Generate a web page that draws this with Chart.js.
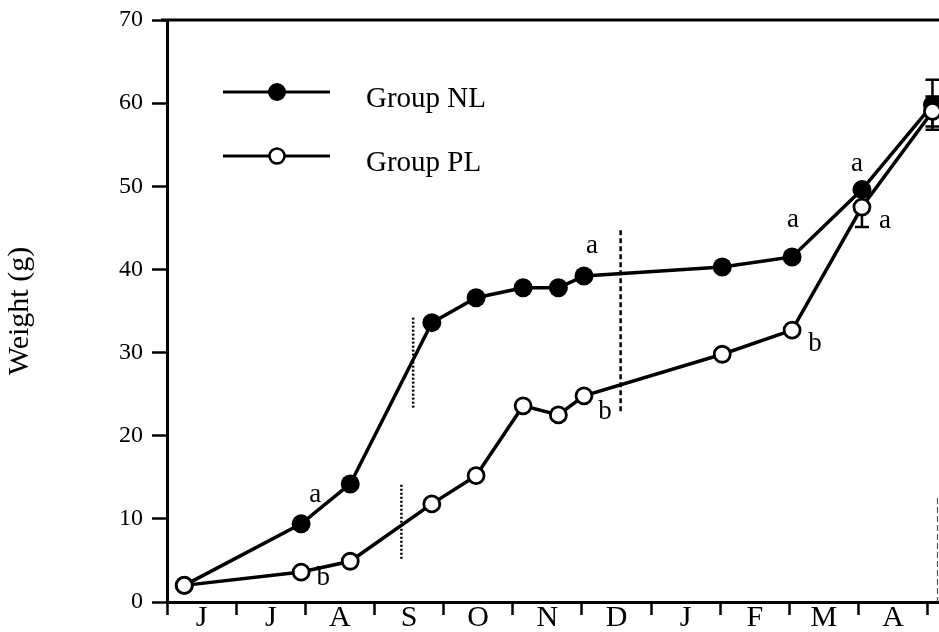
<!DOCTYPE html>
<html>
<head>
<meta charset="utf-8">
<title>Weight (g)</title>
<script src="https://cdn.jsdelivr.net/npm/chart.js@4/dist/chart.umd.min.js"></script>
<style>
  html, body { margin: 0; padding: 0; background: #ffffff; }
  #wrap { width: 939px; height: 632px; position: relative; }
</style>
</head>
<body>
<div id="wrap"><canvas id="weightChart" width="939" height="632"></canvas></div>
<script>
// Month initials along the x axis (June to April)
const monthLabels = ['J', 'J', 'A', 'S', 'O', 'N', 'D', 'J', 'F', 'M', 'A'];
// Sampling dates, in months counted from the start of June
const samplingMonths = [0.25, 1.94, 2.65, 3.83, 4.47, 5.15, 5.66, 6.03, 8.03, 9.04, 10.05, 11.07];
// Mean body weight (g)
const weightNL = [2.0, 9.4, 14.2, 33.6, 36.6, 37.8, 37.8, 39.2, 40.3, 41.5, 49.6, 59.8];
const weightPL = [2.0, 3.6, 4.9, 11.8, 15.2, 23.6, 22.5, 24.8, 29.8, 32.7, 47.5, 59.0];
// Error bar half-widths (g); 0 = no bar drawn
const errorNL = [0, 0, 0, 0, 0, 0, 0, 0, 0, 0, 0, 3.0];
const errorPL = [0, 0, 0, 0, 0, 0, 0, 0, 0, 0, 2.4, 1.8];
// Significance letters per sampling date
const letterNL = [null, 'a', null, null, null, null, null, 'a', null, 'a', 'a', null];
const letterPL = [null, 'b', null, null, null, null, null, 'b', null, 'b', 'a', null];
// Stage boundary lines: month position and weight span
const stageLines = [
  { month: 3.56, from: 23.3, to: 34.2, kind: 'dotted' },
  { month: 3.39, from: 5.0, to: 14.1, kind: 'dotted' },
  { month: 6.56, from: 22.8, to: 44.7, kind: 'dashed' }
];
// Y axis range and tick step
const yTicks = { min: 0, max: 70, step: 10 };

const SERIF = "'Liberation Serif', 'Times New Roman', serif";
Chart.defaults.font.family = SERIF;
Chart.defaults.color = '#000';

const toPoints = (ys) => samplingMonths.map((m, i) => ({ x: m, y: ys[i] }));

// Offsets (px) of each significance letter from its point
const letterOffset = {
  NL: { 1: [14, -29], 7: [8, -30], 9: [1, -37], 10: [-5, -26] },
  PL: { 1: [22, 6], 7: [21, 16], 9: [23, 14], 10: [23, 14] }
};

// keep the axes from reserving extra room beside the plot
const noPad = (s) => { s.paddingLeft = 0; s.paddingRight = 0; s.paddingTop = 0; s.paddingBottom = 0; };

const decorations = {
  id: 'decorations',
  beforeDatasetsDraw(chart) {
    const { ctx, chartArea: a, scales: { x, y } } = chart;
    ctx.save();
    // frame: top line and partial right edge
    ctx.strokeStyle = '#000';
    ctx.lineWidth = 3;
    ctx.beginPath();
    ctx.moveTo(a.left - 6, a.top);
    ctx.lineTo(chart.width, a.top);
    ctx.stroke();
    ctx.lineWidth = 1.2;
    ctx.strokeStyle = '#555';
    ctx.setLineDash([6, 3]);
    ctx.beginPath();
    ctx.moveTo(a.right - 0.5, y.getPixelForValue(12.5));
    ctx.lineTo(a.right - 0.5, a.bottom);
    ctx.stroke();

    // stage boundary lines
    ctx.strokeStyle = '#000';
    stageLines.forEach(s => {
      ctx.lineWidth = 2.5;
      ctx.setLineDash(s.kind === 'dotted' ? [2, 2] : [5, 3]);
      const px = x.getPixelForValue(s.month);
      ctx.beginPath();
      ctx.moveTo(px, y.getPixelForValue(s.to));
      ctx.lineTo(px, y.getPixelForValue(s.from));
      ctx.stroke();
    });
    ctx.setLineDash([]);

    // error bars
    const drawErr = (vals, errs) => {
      vals.forEach((v, i) => {
        const e = errs[i];
        if (!e) return;
        const px = x.getPixelForValue(samplingMonths[i]);
        const t = y.getPixelForValue(v + e);
        const b = y.getPixelForValue(v - e);
        ctx.lineWidth = 2.5;
        ctx.beginPath();
        ctx.moveTo(px, t); ctx.lineTo(px, b);
        ctx.moveTo(px - 7, t); ctx.lineTo(px + 7, t);
        ctx.moveTo(px - 7, b); ctx.lineTo(px + 7, b);
        ctx.stroke();
      });
    };
    drawErr(weightNL, errorNL);
    drawErr(weightPL, errorPL);
    ctx.restore();
  },
  afterDatasetsDraw(chart) {
    const { ctx, scales: { x, y } } = chart;
    ctx.save();
    ctx.fillStyle = '#000';
    ctx.font = '27px ' + SERIF;
    ctx.textAlign = 'center';
    ctx.textBaseline = 'middle';
    const drawLetters = (vals, letters, offs) => {
      letters.forEach((l, i) => {
        if (!l) return;
        const o = offs[i] || [0, 0];
        ctx.fillText(l, x.getPixelForValue(samplingMonths[i]) + o[0], y.getPixelForValue(vals[i]) + o[1]);
      });
    };
    drawLetters(weightNL, letterNL, letterOffset.NL);
    drawLetters(weightPL, letterPL, letterOffset.PL);

    // legend
    const entries = [
      { label: 'Group NL', ly: 92, base: 107, filled: true },
      { label: 'Group PL', ly: 156, base: 171, filled: false }
    ];
    entries.forEach(en => {
      ctx.strokeStyle = '#000';
      ctx.lineWidth = 3;
      ctx.beginPath();
      ctx.moveTo(223, en.ly);
      ctx.lineTo(330, en.ly);
      ctx.stroke();
      ctx.beginPath();
      if (en.filled) {
        ctx.arc(277, en.ly, 9, 0, Math.PI * 2);
        ctx.fillStyle = '#000';
        ctx.fill();
      } else {
        ctx.arc(277, en.ly, 7.5, 0, Math.PI * 2);
        ctx.fillStyle = '#fff';
        ctx.fill();
        ctx.lineWidth = 2.5;
        ctx.stroke();
      }
      ctx.fillStyle = '#000';
      ctx.font = '29px ' + SERIF;
      ctx.textAlign = 'left';
      ctx.textBaseline = 'alphabetic';
      ctx.fillText(en.label, 366, en.base);
    });
    ctx.restore();
  }
};

new Chart(document.getElementById('weightChart'), {
  type: 'scatter',
  data: {
    datasets: [
      {
        label: 'Group PL',
        data: toPoints(weightPL),
        showLine: true,
        borderColor: '#000',
        borderWidth: 3.5,
        pointRadius: 8,
        pointBackgroundColor: '#fff',
        pointBorderColor: '#000',
        pointBorderWidth: 2.8,
        clip: false
      },
      {
        label: 'Group NL',
        data: toPoints(weightNL),
        showLine: true,
        borderColor: '#000',
        borderWidth: 3.5,
        pointRadius: 9.5,
        pointBackgroundColor: '#000',
        pointBorderColor: '#000',
        pointBorderWidth: 0,
        clip: false
      }
    ]
  },
  options: {
    responsive: false,
    animation: false,
    events: [],
    layout: { autoPadding: false, padding: { left: 0, top: 20, right: 1, bottom: 0 } },
    plugins: { legend: { display: false }, tooltip: { enabled: false } },
    scales: {
      x: {
        type: 'linear',
        position: 'bottom',
        weight: 0,
        min: 0,
        max: 11.15,
        afterBuildTicks: (s) => { s.ticks = monthLabels.map((_, i) => ({ value: i })).concat([{ value: monthLabels.length }]); },
        ticks: { display: false },
        grid: { drawOnChartArea: false, drawTicks: true, tickLength: 13, tickWidth: 2.5, tickColor: '#000' },
        border: { display: true, color: '#000', width: 3 },
        afterFit: (s) => { s.height = 0; noPad(s); }
      },
      months: {
        type: 'linear',
        position: 'bottom',
        weight: 1,
        min: 0,
        max: 11.15,
        afterBuildTicks: (s) => { s.ticks = monthLabels.map((_, i) => ({ value: i + 0.5 })); },
        ticks: {
          autoSkip: false,
          maxRotation: 0,
          padding: 1,
          color: '#000',
          font: { size: 30, lineHeight: 1 },
          callback: (v, i) => monthLabels[i]
        },
        grid: { display: false, drawTicks: false },
        border: { display: false },
        afterFit: (s) => { s.height = 30; noPad(s); }
      },
      y: {
        type: 'linear',
        min: yTicks.min,
        max: yTicks.max,
        ticks: { stepSize: yTicks.step, padding: 9, color: '#000', font: { size: 24 } },
        grid: { drawOnChartArea: false, tickLength: 15, tickWidth: 2.5, tickColor: '#000' },
        border: { display: true, color: '#000', width: 3 },
        title: { display: true, text: 'Weight (g)', color: '#000', font: { size: 30 }, padding: { top: 2, bottom: 0 } },
        afterFit: (s) => { s.width = 167; noPad(s); }
      }
    }
  },
  plugins: [decorations]
});
</script>
</body>
</html>
